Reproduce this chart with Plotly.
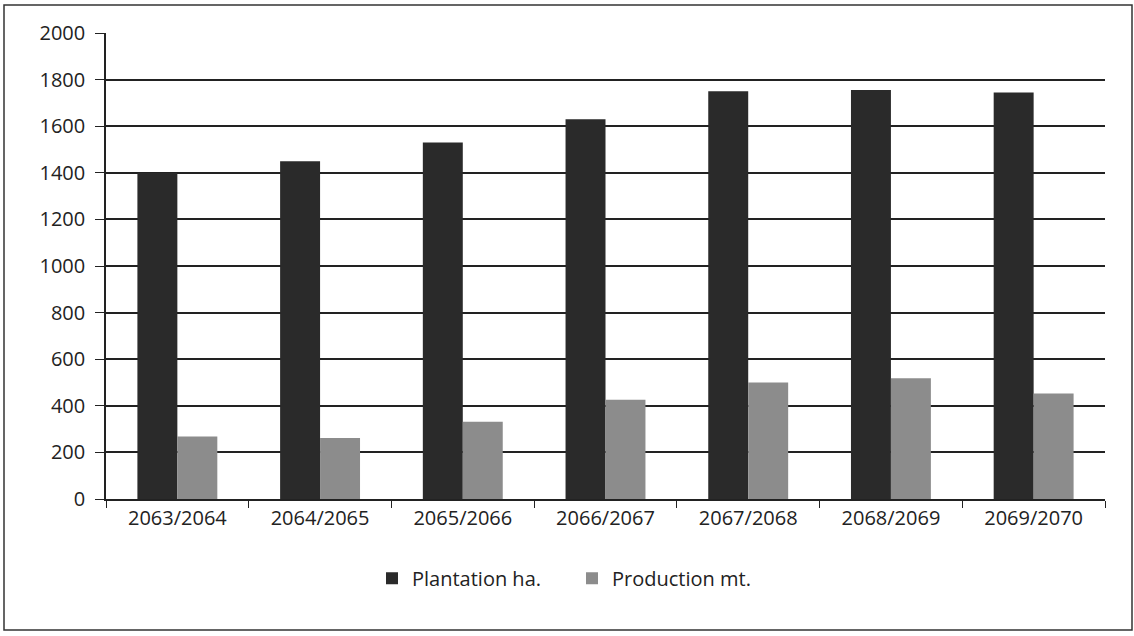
import plotly.graph_objects as go

categories = ["2063/2064", "2064/2065", "2065/2066", "2066/2067", "2067/2068", "2068/2069", "2069/2070"]
plantation = [1400, 1450, 1530, 1630, 1750, 1755, 1745]
production = [268, 262, 332, 426, 500, 518, 453]
y_ticks = [0, 200, 400, 600, 800, 1000, 1200, 1400, 1600, 1800, 2000]

fig = go.Figure()
fig.add_trace(go.Bar(x=categories, y=plantation, name="Plantation ha.", legend="legend",
                     marker=dict(color="#2a2a2a", line=dict(width=0))))
fig.add_trace(go.Bar(x=categories, y=production, name="Production mt.", legend="legend2",
                     marker=dict(color="#8c8c8c", line=dict(width=0))))

font = "Open Sans, Lato, sans-serif"
leg_common = dict(orientation="h", y=-0.17, yanchor="middle", xanchor="left",
                  font=dict(size=20, color="#222"), itemwidth=30, bgcolor="rgba(0,0,0,0)")
fig.update_layout(
    width=1134, height=636,
    margin=dict(l=106, r=29, t=33, b=137),
    paper_bgcolor="white", plot_bgcolor="white",
    barmode="group", bargap=0.44, bargroupgap=0,
    font=dict(family=font, size=20, color="#222"),
    showlegend=True,
    legend=dict(x=(372 - 106) / 999, **leg_common),
    legend2=dict(x=(572 - 106) / 999, **leg_common),
    xaxis=dict(showline=True, linecolor="#222", linewidth=1.5, tickson="boundaries",
               ticks="outside", ticklen=7, tickcolor="#222", showgrid=False,
               tickfont=dict(size=20)),
    yaxis=dict(range=[0, 2000], tickvals=y_ticks, showline=True, linecolor="#222", linewidth=1.5,
               ticks="outside", ticklen=9, tickcolor="#222", showgrid=True,
               gridcolor="#222", gridwidth=1.5, zeroline=False, tickfont=dict(size=20),
               ticklabelstandoff=6),
    shapes=[dict(type="rect", xref="paper", yref="paper",
                 x0=(4 - 106) / 999, x1=(1132 - 106) / 999,
                 y0=(499 - 630) / 466, y1=(499 - 5) / 466,
                 line=dict(color="#333", width=1.5), fillcolor="rgba(0,0,0,0)", layer="below")],
)

fig.write_html("out.html", config={"displayModeBar": False},
               post_script="document.body.style.margin='0';document.body.style.overflow='hidden';")
